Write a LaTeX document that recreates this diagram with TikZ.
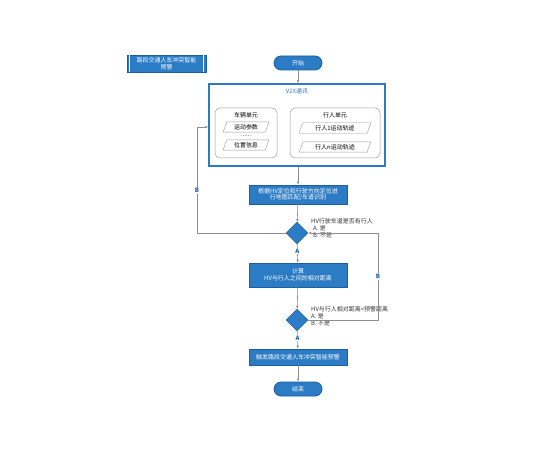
\documentclass[tikz,border=0pt]{standalone}
\usepackage{fontspec}
\setmainfont{Noto Sans CJK SC}
\usetikzlibrary{shapes.geometric,arrows.meta}
\definecolor{mblue}{HTML}{2B7BC5}
\definecolor{dblue}{HTML}{1D5E9E}
\definecolor{lgray}{HTML}{9A9A9A}
\definecolor{conn}{HTML}{8C8C8C}
\tikzset{
  x=1bp, y=-1bp,
  every node/.style={font=\fontsize{6}{7}\selectfont, inner sep=1pt},
  bluebox/.style={draw=dblue, fill=mblue, text=white, line width=0.6pt, align=center, minimum height=19bp},
  pill/.style={draw=dblue, fill=mblue, text=white, rounded corners=7bp, minimum width=48bp, minimum height=14bp, line width=0.8pt},
  decision/.style={diamond, draw=dblue, fill=mblue, minimum width=22bp, minimum height=22bp, inner sep=0pt},
  unitbox/.style={draw=lgray, rounded corners=5bp, fill=white, line width=0.5pt},
  para/.style={trapezium, trapezium left angle=70, trapezium right angle=110, draw=lgray, fill=white, minimum height=8bp, inner sep=0.5pt},
  conline/.style={draw=conn, line width=0.6pt},
  arr/.style={conline, -{Latex[length=3bp,width=2.5bp]}},
  lbl/.style={fill=white, text=dblue, font=\fontsize{6}{7}\bfseries\selectfont, inner sep=0.8pt},
  cond/.style={anchor=west, align=left, text=black!80, inner sep=0pt}
}
\begin{document}
\begin{tikzpicture}
\useasboundingbox[fill=white] (0,0) rectangle (550,460);
% title
\node[bluebox, minimum width=79bp, minimum height=17bp, inner sep=0pt] (title) at (166.5,63.5) {路段交通人车冲突智能\\预警};
\draw[white, line width=0.5pt] ([xshift=3bp]title.north west) -- ([xshift=3bp]title.south west);
\draw[white, line width=0.5pt] ([xshift=-3bp]title.north east) -- ([xshift=-3bp]title.south east);
% start
\node[pill] (start) at (298,63) {开始};
% V2X container
\node[draw=mblue, line width=1.2pt, fill=white, minimum width=176bp, minimum height=82bp, inner sep=0pt] (v2x) at (297,125) {};
\node[text=mblue] (v2xt) at (297,91) {V2X通讯};
\node[unitbox, minimum width=62bp, minimum height=50bp] (veh) at (246,133) {};
\node (vehl) at (246,115) {车辆单元};
\node[para, minimum width=46bp] (vp1) at (246,127) {运动参数};
\node (vdots) at (246,136) {......};
\node[para, minimum width=46bp] (vp2) at (246,145) {位置信息};
\node[unitbox, minimum width=90bp, minimum height=50bp] (ped) at (335,133) {};
\node (pedl) at (335,115) {行人单元};
\node[para, minimum width=72bp] (pp1) at (335,128) {行人1运动轨迹};
\node[para, minimum width=72bp] (pp2) at (335,147) {行人n运动轨迹};
% process boxes
\node[bluebox, minimum width=98bp] (match) at (298,194.5) {根据HV定位和行驶方向定位进\\行地图匹配/车道识别};
\node[decision] (d1) at (297,233) {};
\node[cond] (d1t) at (311,228) {HV行驶车道是否有行人\\\hspace*{2bp}A. 是\\\hspace*{2bp}B. 不是};
\node[bluebox, minimum width=98bp, minimum height=24bp] (calc) at (298,275) {计算\\HV与行人之间的相对距离};
\node[decision] (d2) at (297,320) {};
\node[cond] (d2t) at (311,316) {HV与行人相对距离<预警距离\\A. 是\\B. 不是};
\node[bluebox, minimum width=98bp, minimum height=16bp] (warn) at (298,357) {触发路段交通人车冲突智能预警};
\node[pill] (end) at (298,389) {结束};
% connectors
\draw[arr] (start) -- (start |- v2x.north);
\draw[arr] (v2x.south -| match) -- (match);
\draw[arr] (match) -- (d1);
\draw[arr] (d1) -- node[lbl, pos=0.4] {A} (calc);
\draw[arr] (calc) -- (d2);
\draw[arr] (d2) -- node[lbl, pos=0.4] {A} (warn);
\draw[arr] (warn) -- (end);
\coordinate (bl1) at (197,233);
\coordinate (bl2) at (197,127);
\draw[arr] (d1.west) -- (bl1) -- node[lbl, pos=0.4] {B} (bl2) -- (bl2 -| v2x.west);
\coordinate (br1) at (378,320);
\coordinate (br2) at (378,233);
\draw[arr] (d2.east) -- (br1) -- node[lbl, pos=0.5] {B} (br2) -- (d1.east);
\end{tikzpicture}
\end{document}
